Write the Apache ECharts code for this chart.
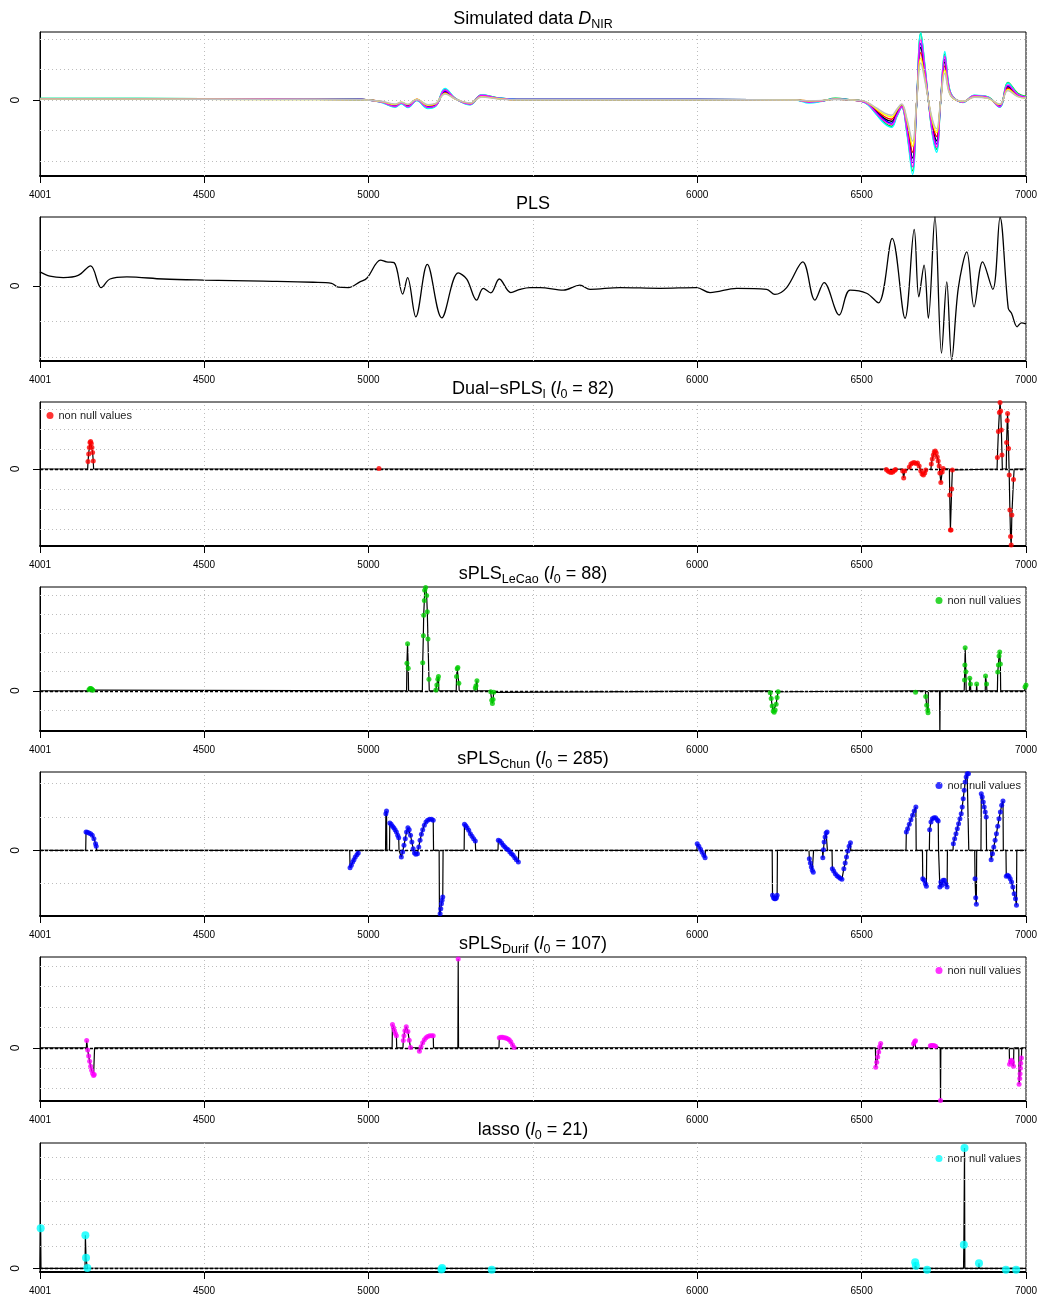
<!DOCTYPE html>
<html>
<head>
<meta charset="utf-8">
<script src="https://cdn.jsdelivr.net/npm/echarts@6/dist/echarts.min.js"></script>
<style>
html, body { margin: 0; padding: 0; background: #fff; }
#chart { width: 1042px; height: 1299px; }
</style>
</head>
<body>
<div id="chart"></div>
<script>
// ---------- data ----------
const xTickValues = [4001, 4500, 5000, 6000, 6500, 7000];
const xGridValues = [4500, 5000, 5500, 6000, 6500, 7000];

// simulated NIR spectra (a few samples, same wavelength grid)
const nirX = [4001, 4300, 4700, 4980, 5040, 5081, 5100, 5120, 5147, 5181, 5205, 5233, 5265, 5309, 5344, 5390, 5450,
  6000, 6300, 6340, 6380, 6420, 6470, 6500, 6520, 6545, 6570, 6591, 6607, 6622, 6638, 6655, 6667, 6680, 6692, 6704,
  6716, 6728, 6740, 6753, 6765, 6777, 6808, 6843, 6884, 6920, 6945, 6975, 7000];
const nirBlack = [0.04,0.04,0.03,0.02,-0.06,-0.19,-0.09,-0.19,0.01,-0.22,-0.16,0.28,0.04,-0.12,0.14,0.06,0.02,
  0.02,0.0,-0.04,-0.02,0.03,0.0,-0.03,-0.12,-0.37,-0.61,-0.7,-0.43,-0.19,-0.87,-1.91,-0.16,1.73,0.94,-0.08,-0.94,-1.34,-0.08,1.25,0.39,0.09,-0.06,0.12,0.08,-0.19,0.44,0.16,0.08];
const nirRed = [0.03,0.03,0.03,0.02,-0.05,-0.17,-0.08,-0.17,0.03,-0.2,-0.14,0.25,0.03,-0.11,0.13,0.06,0.01,
  0.01,0.0,-0.03,-0.02,0.03,0.0,-0.03,-0.11,-0.34,-0.55,-0.63,-0.39,-0.17,-0.78,-1.72,-0.14,1.56,0.84,-0.07,-0.84,-1.2,-0.07,1.12,0.35,0.08,-0.05,0.11,0.07,-0.17,0.39,0.14,0.07];
const nirGreen = [0.05,0.05,0.04,0.02,-0.07,-0.22,-0.11,-0.23,-0.01,-0.26,-0.19,0.35,0.05,-0.15,0.17,0.08,0.02,
  0.02,0.0,-0.06,-0.03,0.06,0.0,-0.04,-0.15,-0.46,-0.75,-0.86,-0.53,-0.23,-1.07,-2.33,-0.19,2.2,1.15,-0.1,-1.15,-1.62,-0.1,1.52,0.48,0.12,-0.07,0.15,0.1,-0.22,0.58,0.22,0.12];
const nirBlue = [0.04,0.04,0.03,0.02,-0.06,-0.2,-0.1,-0.21,0.01,-0.23,-0.17,0.3,0.04,-0.13,0.15,0.07,0.02,
  0.02,0.0,-0.05,-0.03,0.04,0.0,-0.03,-0.13,-0.4,-0.66,-0.76,-0.46,-0.2,-0.94,-2.06,-0.17,1.86,1.0,-0.08,-1.0,-1.45,-0.08,1.34,0.42,0.1,-0.07,0.13,0.08,-0.2,0.47,0.17,0.08];
const nirCyan = [0.05,0.05,0.04,0.02,-0.08,-0.24,-0.12,-0.25,-0.02,-0.28,-0.2,0.38,0.05,-0.16,0.18,0.08,0.02,
  0.02,0.0,-0.1,-0.04,0.05,0.0,-0.04,-0.16,-0.48,-0.78,-0.9,-0.55,-0.24,-1.12,-2.45,-0.2,2.22,1.2,-0.1,-1.2,-1.72,-0.1,1.6,0.5,0.12,-0.08,0.16,0.1,-0.24,0.56,0.2,0.1];
const nirMagenta = [0.04,0.04,0.04,0.02,-0.07,-0.21,-0.1,-0.22,0.0,-0.24,-0.18,0.33,0.04,-0.14,0.16,0.07,0.02,
  0.02,0.0,-0.07,-0.03,0.04,0.0,-0.04,-0.14,-0.43,-0.7,-0.81,-0.5,-0.22,-1.0,-2.2,-0.18,2.0,1.08,-0.09,-1.08,-1.55,-0.09,1.44,0.45,0.11,-0.07,0.14,0.09,-0.22,0.5,0.18,0.09];
const nirYellow = [0.03,0.03,0.02,0.01,-0.05,-0.15,-0.07,-0.15,0.03,-0.17,-0.12,0.22,0.03,-0.1,0.11,0.05,0.01,
  0.01,0.0,-0.03,-0.02,0.03,0.0,-0.02,-0.1,-0.3,-0.48,-0.56,-0.34,-0.15,-0.69,-1.52,-0.12,1.38,0.74,-0.06,-0.74,-1.07,-0.06,0.99,0.31,0.07,-0.05,0.1,0.06,-0.15,0.35,0.12,0.06];
const nirGray = [0.03,0.03,0.02,0.01,-0.04,-0.13,-0.07,-0.14,0.02,-0.15,-0.11,0.2,0.03,-0.09,0.1,0.04,0.01,
  0.01,0.0,-0.02,-0.01,0.02,0.0,-0.02,-0.09,-0.26,-0.43,-0.5,-0.3,-0.13,-0.62,-1.35,-0.11,1.22,0.66,-0.06,-0.66,-0.95,-0.06,0.88,0.28,0.07,-0.04,0.09,0.06,-0.13,0.31,0.11,0.06];
const nirSamples = [nirBlack, nirRed, nirGreen, nirBlue, nirCyan, nirMagenta, nirYellow, nirGray];
const nirColors = ['#000000', '#FF0000', '#00CD00', '#0000FF', '#00FFFF', '#FF00FF', '#FFFF00', '#BEBEBE'];

// PLS coefficients
const plsCoef = [[4001,0.39],[4031,0.27],[4072,0.23],[4117,0.29],[4155,0.56],[4187,-0.05],[4214,0.19],[4265,0.25],
  [4376,0.19],[4498,0.16],[4680,0.13],[4832,0.1],[4888,0.07],[4908,-0.04],[4939,-0.05],[4974,0.11],[4995,0.21],
  [5037,0.72],[5055,0.67],[5078,0.65],[5104,-0.23],[5119,0.23],[5144,-0.87],[5179,0.6],[5223,-0.9],[5273,0.36],
  [5299,0.19],[5329,-0.4],[5349,-0.07],[5372,-0.2],[5398,0.19],[5433,-0.19],[5461,-0.1],[5491,-0.05],[5522,-0.05],
  [5593,-0.12],[5643,0.02],[5674,-0.1],[5765,-0.05],[5887,-0.07],[5998,-0.05],[6039,-0.19],[6120,-0.07],[6211,-0.1],
  [6236,-0.24],[6272,-0.05],[6321,0.67],[6358,-0.4],[6386,0.09],[6432,-0.82],[6465,-0.12],[6515,-0.21],[6551,-0.48],
  [6593,1.33],[6632,-0.91],[6660,1.58],[6674,-0.31],[6690,0.58],[6703,-0.91],[6723,1.93],[6743,-1.89],[6759,0.11],
  [6774,-2.08],[6794,-0.07],[6820,0.95],[6842,-0.59],[6868,0.67],[6899,-0.1],[6921,1.92],[6946,-0.63],[6956,-0.77],
  [6973,-1.15],[6986,-1.04],[7000,-1.07]];

// sparse coefficient vectors: [wavenumber, value]
const dualCoef = [
  [4146,0],[4147,0.37],[4149,0.75],[4151,1.08],[4153,1.33],[4155,1.38],[4157,1.28],[4159,1.07],[4161,0.82],[4163,0.4],[4164,0],
  [5031,0],[5032,0.02],[5033,0],
  [6574,0],[6575,-0.02],[6580,-0.1],[6585,-0.15],[6590,-0.17],[6595,-0.15],[6600,-0.08],[6603,-0.02],[6604,0],
  [6624,0],[6625,-0.1],[6628,-0.45],[6631,-0.1],[6632,0],
  [6644,0],[6645,0.1],[6650,0.25],[6655,0.3],[6660,0.32],[6665,0.28],[6670,0.3],[6675,0.15],[6680,-0.1],[6684,-0.25],[6688,-0.3],[6692,-0.2],[6695,-0.05],[6696,0],
  [6711,0],[6712,0.25],[6715,0.5],[6718,0.7],[6721,0.85],[6724,0.9],[6727,0.8],[6730,0.6],[6733,0.4],[6736,0.15],[6738,-0.2],[6741,-0.68],[6745,-0.15],[6748,0.02],[6749,0],
  [6767,0],[6768,-1.3],[6770,-3.05],[6772,-3.05],[6774,-1.0],[6776,-0.05],[6777,0],
  [6912,0],[6913,0.58],[6916,1.87],[6919,2.82],[6921,3.32],[6923,2.9],[6925,1.95],[6927,0.7],[6928,0],
  [6940,0],[6941,1.33],[6943,2.42],[6944,2.78],[6947,1.03],[6949,-0.3],[6951,-2.05],[6953,-3.38],[6955,-3.8],[6957,-2.3],[6962,-0.52],[6964,0]
];
const lecaoCoef = [
  [4149,0],[4150,0.05],[4153,0.12],[4156,0.12],[4159,0.08],[4162,0.03],[4163,0],
  [5116,0],[5117,1.44],[5119,2.46],[5121,1.18],[5122,0],
  [5164,0],[5165,1.47],[5167,2.88],[5168,3.95],[5170,4.72],[5171,5.25],[5174,5.39],[5177,4.98],[5179,4.13],[5181,2.7],[5184,0.6],[5185,0],
  [5204,0],[5205,0.04],[5208,0.3],[5211,0.6],[5213,0.74],[5214,0],
  [5267,0],[5268,0.74],[5270,1.15],[5272,1.21],[5275,0.39],[5276,0],
  [5324,0],[5325,0.14],[5327,0.26],[5330,0.53],[5331,0],
  [5371,0],[5372,-0.05],[5375,-0.49],[5377,-0.66],[5379,-0.45],[5381,-0.08],[5382,0],
  [6221,0],[6222,-0.1],[6225,-0.4],[6228,-0.8],[6231,-1.05],[6234,-1.12],[6237,-1.0],[6240,-0.7],[6243,-0.35],[6246,-0.05],[6247,0],
  [6663,0],[6664,-0.07],[6665,0],
  [6694,0],[6695,-0.3],[6698,-0.75],[6701,-1.0],[6702,-1.15],[6703,0],
  [6737,0],[6738,-2.4],[6739,0],
  [6812,0],[6813,0.56],[6814,1.35],[6815,2.25],[6817,1.0],[6818,0],
  [6828,0],[6829,0.66],[6831,0.35],[6832,0],
  [6849,0],[6850,0.35],[6851,0],
  [6876,0],[6877,0.77],[6880,0.35],[6881,0],
  [6913,0],[6914,0.98],[6916,1.35],[6918,1.82],[6920,2.03],[6922,1.4],[6923,0],
  [6996,0],[6997,0.2],[7000,0.3]
];
const chunCoef = [
  [4140,0],[4141,0.55],[4145,0.54],[4150,0.52],[4155,0.5],[4160,0.45],[4165,0.35],[4170,0.2],[4172,0.12],[4173,0],
  [4943,0],[4944,-0.52],[4948,-0.45],[4952,-0.35],[4956,-0.28],[4960,-0.2],[4965,-0.13],[4969,-0.08],[4970,0],
  [5052,0],[5053,1.1],[5055,1.18],[5056,0],
  [5064,0],[5065,0.82],[5069,0.78],[5073,0.72],[5077,0.68],[5081,0.62],[5085,0.55],[5089,0.45],[5092,0.38],[5093,0],
  [5099,0],[5100,-0.2],[5104,-0.05],[5108,0.15],[5112,0.35],[5116,0.55],[5120,0.68],[5124,0.62],[5128,0.45],[5132,0.25],[5136,0.05],[5140,-0.08],[5144,-0.12],
  [5149,-0.1],[5153,0.1],[5157,0.3],[5161,0.48],[5165,0.62],[5170,0.75],[5175,0.85],[5180,0.9],[5186,0.93],[5192,0.93],[5197,0.9],[5198,0],
  [5215,0],[5216,-2.0],[5218,-1.9],[5220,-1.75],[5222,-1.6],[5224,-1.5],[5226,-1.4],[5227,0],
  [5291,0],[5292,0.78],[5296,0.74],[5300,0.68],[5305,0.6],[5310,0.5],[5315,0.42],[5320,0.35],[5325,0.28],[5326,0],
  [5394,0],[5395,0.3],[5400,0.28],[5405,0.22],[5410,0.15],[5415,0.1],[5420,0.05],[5425,0.02],[5430,-0.05],[5435,-0.1],[5440,-0.15],[5445,-0.22],[5450,-0.28],[5456,-0.35],[5457,0],
  [5999,0],[6000,0.2],[6005,0.12],[6010,0.03],[6015,-0.06],[6020,-0.15],[6024,-0.22],[6025,0],
  [6228,0],[6229,-1.35],[6232,-1.42],[6235,-1.45],[6238,-1.45],[6241,-1.42],[6243,-1.35],[6244,0],
  [6340,0],[6341,-0.25],[6344,-0.38],[6347,-0.5],[6350,-0.6],[6353,-0.66],[6354,0],
  [6381,0],[6382,-0.22],[6384,0.02],[6386,0.25],[6389,0.4],[6392,0.52],[6395,0.55],[6396,0],
  [6410,0],[6411,-0.55],[6415,-0.62],[6420,-0.7],[6425,-0.76],[6430,-0.8],[6435,-0.84],[6440,-0.87],[6446,-0.55],[6450,-0.38],[6454,-0.2],[6458,-0.02],[6462,0.12],[6466,0.23],[6467,0],
  [6635,0],[6636,0.55],[6640,0.65],[6645,0.78],[6650,0.92],[6655,1.05],[6660,1.18],[6665,1.3],[6666,0],
  [6685,0],[6686,-0.85],[6690,-0.9],[6694,-1.0],[6697,-1.08],[6698,0],
  [6706,0],[6707,0.62],[6711,0.85],[6715,0.95],[6720,0.98],[6725,0.98],[6730,0.92],[6733,0.88],[6734,0],
  [6737,0],[6738,-1.1],[6741,-0.95],[6744,-1.05],[6748,-0.9],[6752,-0.9],[6756,-1.0],[6760,-1.1],[6761,0],
  [6778,0],[6779,0.2],[6783,0.35],[6787,0.5],[6791,0.65],[6795,0.8],[6799,0.95],[6803,1.1],[6806,1.3],[6809,1.55],[6812,1.8],[6815,2.05],[6818,2.2],[6821,2.3],[6825,2.3],[6826,0],
  [6844,0],[6845,-0.85],[6847,-1.42],[6849,-1.62],[6850,0],
  [6863,0],[6864,1.7],[6867,1.6],[6870,1.45],[6873,1.3],[6876,1.15],[6879,1.0],[6880,0],
  [6893,0],[6894,-0.28],[6898,-0.1],[6902,0.1],[6906,0.3],[6910,0.5],[6914,0.72],[6918,0.95],[6922,1.15],[6926,1.35],[6930,1.48],[6931,0],
  [6939,0],[6940,-0.78],[6944,-0.75],[6948,-0.78],[6952,-0.85],[6956,-0.95],[6960,-1.1],[6964,-1.3],[6968,-1.45],[6971,-1.65],[6972,0]
];
const durifCoef = [
  [4142,0],[4143,0.36],[4146,-0.1],[4149,-0.4],[4152,-0.65],[4155,-0.9],[4158,-1.1],[4161,-1.25],[4164,-1.35],[4166,-1.3],[4167,0],
  [5072,0],[5073,1.14],[5076,1.0],[5079,0.85],[5082,0.7],[5085,0.6],[5086,0],
  [5105,0],[5106,0.36],[5108,0.6],[5111,0.84],[5115,1.04],[5120,0.8],[5124,0.38],[5128,0.02],[5129,0],
  [5154,0],[5155,-0.17],[5160,0.05],[5165,0.25],[5170,0.4],[5175,0.5],[5180,0.56],[5186,0.6],[5192,0.6],[5197,0.6],[5198,0],
  [5272,0],[5273,4.35],[5274,0],
  [5397,0],[5398,0.5],[5403,0.52],[5408,0.52],[5413,0.5],[5418,0.48],[5423,0.45],[5428,0.4],[5433,0.3],[5438,0.15],[5443,0.02],[5444,0],
  [6542,0],[6543,-0.95],[6546,-0.7],[6549,-0.45],[6552,-0.2],[6555,0.05],[6558,0.22],[6559,0],
  [6657,0],[6658,0.2],[6661,0.3],[6664,0.35],[6665,0],
  [6708,0],[6709,0.1],[6713,0.12],[6717,0.12],[6721,0.11],[6725,0.08],[6726,0],
  [6739,0],[6740,-2.58],[6741,0],
  [6949,0],[6950,-0.8],[6953,-0.65],[6956,-0.6],[6959,-0.7],[6962,-0.9],[6963,0],
  [6978,0],[6979,-1.78],[6981,-1.5],[6982,-1.27],[6983,-1.0],[6984,-0.75],[6986,-0.5],[6987,0]
];
const lassoCoef = [
  [4002,0],[4003,1.8],[4004,0],
  [4138,0],[4139,1.49],[4141,0.48],[4145,0.02],[4146,0],
  [5221,0],[5222,-0.05],[5224,0.02],[5225,0],
  [5374,0],[5375,-0.06],[5376,0],
  [6662,0],[6663,0.28],[6665,0.12],[6666,0],
  [6698,0],[6699,-0.06],[6700,0],
  [6810,0],[6811,1.06],[6813,5.4],[6814,0],
  [6856,0],[6857,0.23],[6858,0],
  [6938,0],[6939,-0.06],[6940,0],
  [6969,0],[6970,-0.06],[6971,0]
];

const panelTitles = [
  '{t|Simulated data }{i|D}{s|NIR}',
  '{t|PLS}',
  '{t|Dual\u2212sPLS}{s|l}{t| (}{i|l}{s|0}{t| = 82)}',
  '{t|sPLS}{s|LeCao}{t| (}{i|l}{s|0}{t| = 88)}',
  '{t|sPLS}{s|Chun}{t| (}{i|l}{s|0}{t| = 285)}',
  '{t|sPLS}{s|Durif}{t| (}{i|l}{s|0}{t| = 107)}',
  '{t|lasso (}{i|l}{s|0}{t| = 21)}'
];
const legendText = 'non null values';

// sparse panels: name, coefficients, colour
const sparsePanels = [
  { name: 'Dual-sPLS', coef: dualCoef, color: '#FF0000' },
  { name: 'sPLS LeCao', coef: lecaoCoef, color: '#00CD00' },
  { name: 'sPLS Chun', coef: chunCoef, color: '#0000FF' },
  { name: 'sPLS Durif', coef: durifCoef, color: '#FF00FF' },
  { name: 'lasso', coef: lassoCoef, color: '#00FFFF' }
];

// ---------- layout ----------
const FONT = '"Liberation Sans", Arial, Helvetica, sans-serif';
const plotLeft = 40, plotWidth = 986;
const panelTop = [32, 217, 402, 587, 772, 957, 1143];
const panelHeight = [144, 144, 144, 144, 144, 144, 129];
const yRange = [[-2.5, 2.24], [-2.11, 1.93], [-3.85, 3.35], [-2.1, 5.42], [-1.97, 2.35], [-2.6, 4.45], [-0.16, 5.63]];
const yGrid = [[-2, -1, 0, 1, 2], [-2, -1, 0, 1], [-3, -2, -1, 0, 1, 2, 3], [-1, 0, 1, 2, 3, 4, 5],
  [-1, 0, 1, 2], [-2, -1, 0, 1, 2, 3, 4], [1, 2, 3, 4, 5]];
const sparseSymbol = [5, 5, 5, 5, 8];
const legendPos = [
  { left: 46.5, top: 410 }, { left: 935.5, top: 595 }, { left: 935.5, top: 780 },
  { left: 935.5, top: 965 }, { left: 935.5, top: 1153 }
];

const richStyles = {
  t: { fontSize: 18, fontFamily: FONT, fontWeight: 'normal', color: '#000', lineHeight: 21, verticalAlign: 'top' },
  i: { fontSize: 18, fontFamily: FONT, fontWeight: 'normal', fontStyle: 'italic', color: '#000', lineHeight: 21, verticalAlign: 'top' },
  s: { fontSize: 12.5, fontFamily: FONT, fontWeight: 'normal', color: '#000', lineHeight: 12, verticalAlign: 'bottom' }
};

const grids = [], xAxes = [], yAxes = [], titles = [], series = [], legends = [];

for (let i = 0; i < 7; i++) {
  grids.push({
    left: plotLeft, width: plotWidth, top: panelTop[i], height: panelHeight[i],
    show: true, borderColor: '#000', borderWidth: 1, backgroundColor: 'transparent'
  });
  xAxes.push({
    type: 'value', gridIndex: i, min: 4001, max: 7000,
    axisLine: { show: true, onZero: false, lineStyle: { color: '#000', width: 2 } },
    axisTick: { show: true, customValues: xTickValues, length: 7, lineStyle: { color: '#000', width: 1 } },
    axisLabel: { show: true, customValues: xTickValues, formatter: v => String(v),
      fontSize: 10, fontFamily: FONT, color: '#000', margin: 14 },
    splitLine: { show: false }
  });
  yAxes.push({
    type: 'value', gridIndex: i, min: yRange[i][0], max: yRange[i][1],
    axisLine: { show: true, lineStyle: { color: '#000', width: 1 } },
    axisTick: { show: true, customValues: [0], length: 7, lineStyle: { color: '#000', width: 1 } },
    axisLabel: { show: true, customValues: [0], formatter: v => String(v), rotate: 90,
      fontSize: 12, fontFamily: FONT, color: '#000', margin: 18 },
    splitLine: { show: false }
  });
  titles.push({
    text: panelTitles[i], left: plotLeft + plotWidth / 2, textAlign: 'center', top: panelTop[i] - 22,
    textStyle: { fontWeight: 'normal', rich: richStyles }, padding: 0
  });
  // dotted reference grid
  series.push({
    type: 'line', xAxisIndex: i, yAxisIndex: i, data: [], silent: true, z: 1,
    markLine: {
      silent: true, symbol: ['none', 'none'], label: { show: false }, animation: false,
      lineStyle: { type: [1, 3], color: '#bdbdbd', width: 1 },
      emphasis: { disabled: true },
      data: xGridValues.map(v => ({ xAxis: v })).concat(yGrid[i].map(v => ({ yAxis: v })))
    }
  });
}

// panel 1: spectra
nirSamples.forEach((ys, k) => {
  series.push({
    type: 'line', xAxisIndex: 0, yAxisIndex: 0, z: 3,
    data: nirX.map((x, j) => [x, ys[j]]),
    showSymbol: false, smooth: 0.4, lineStyle: { color: nirColors[k], width: 1.4 }, silent: true
  });
});

// panel 2: PLS coefficients
series.push({
  type: 'line', xAxisIndex: 1, yAxisIndex: 1, z: 3, data: plsCoef,
  showSymbol: false, smooth: 0.35, lineStyle: { color: '#000', width: 1.3 }, silent: true
});

// panels 3-7: sparse coefficient vectors
sparsePanels.forEach((p, k) => {
  const gi = k + 2;
  const full = [[4001, 0]].concat(p.coef);
  if (p.coef[p.coef.length - 1][0] < 7000) full.push([7000, 0]);
  series.push({
    type: 'line', xAxisIndex: gi, yAxisIndex: gi, z: 3, data: full,
    showSymbol: false, lineStyle: { color: '#000', width: 1.2 }, silent: true
  });
  series.push({
    type: 'line', xAxisIndex: gi, yAxisIndex: gi, data: [], silent: true, z: 4,
    markLine: {
      silent: true, symbol: ['none', 'none'], label: { show: false }, animation: false,
      lineStyle: { type: [3, 2], color: '#000', width: 1.3 }, emphasis: { disabled: true },
      data: [{ yAxis: 0 }]
    }
  });
  series.push({
    name: p.name, type: 'scatter', xAxisIndex: gi, yAxisIndex: gi, z: 5,
    data: p.coef.filter(d => d[1] !== 0),
    symbol: 'circle', symbolSize: sparseSymbol[k], itemStyle: { color: p.color }, silent: true
  });
  legends.push({
    data: [p.name], formatter: legendText, left: legendPos[k].left, top: legendPos[k].top,
    padding: 0, icon: 'circle', itemWidth: 7, itemHeight: 7, itemGap: 0,
    textStyle: { fontSize: 11, fontFamily: FONT, color: '#222', padding: [0, 0, 0, 0] },
    selectedMode: false
  });
});

const chart = echarts.init(document.getElementById('chart'), null, { renderer: 'canvas' });
chart.setOption({
  animation: false,
  backgroundColor: '#fff',
  title: titles,
  grid: grids,
  xAxis: xAxes,
  yAxis: yAxes,
  legend: legends,
  series: series
});
</script>
</body>
</html>
